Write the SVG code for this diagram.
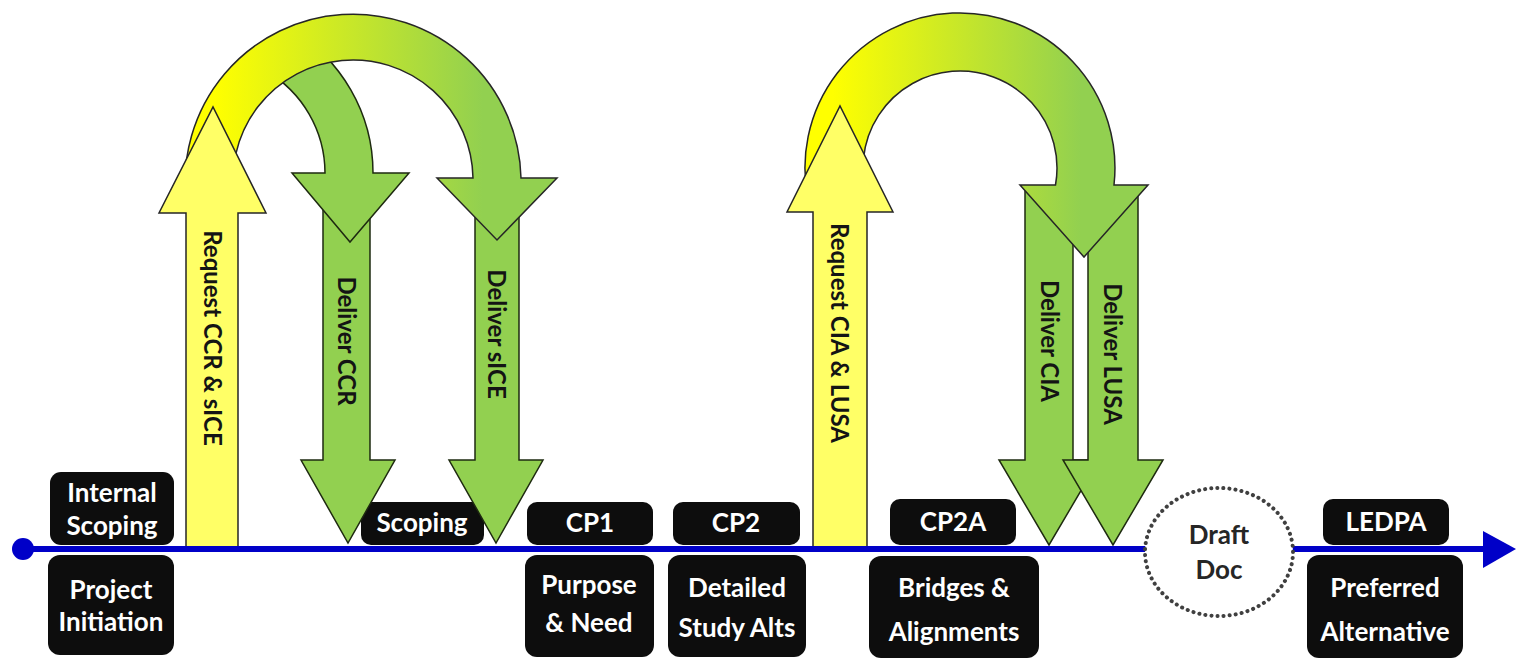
<svg xmlns="http://www.w3.org/2000/svg" width="1516" height="660" viewBox="0 0 1516 660">
<style>
.box{fill:#0d0d0d}
.bt{font-family:Lato,"Open Sans","Liberation Sans",sans-serif;font-weight:700;font-size:26px;fill:#ffffff;text-anchor:middle}
.at{font-family:Lato,"Open Sans","Liberation Sans",sans-serif;font-weight:700;font-size:24px;fill:#141414;text-anchor:middle;dominant-baseline:central}
.yel{fill:#ffff66;stroke:#262626;stroke-width:1.5;stroke-linejoin:miter}
.grn{fill:#92d050;stroke:#1e2a10;stroke-width:1.5;stroke-linejoin:miter}
.arc{fill:url(#yg);stroke:#262626;stroke-width:1.5;stroke-linejoin:miter}
.arc2{fill:url(#yg2);stroke:#262626;stroke-width:1.5;stroke-linejoin:miter}
.tl{stroke:#0000c8;stroke-width:6;fill:none}
</style>
<defs>
<linearGradient id="yg" x1="185" y1="0" x2="557" y2="0" gradientUnits="userSpaceOnUse">
<stop offset="0.08" stop-color="#ffff00"/>
<stop offset="0.8" stop-color="#92d050"/>
</linearGradient>
<linearGradient id="yg2" x1="805" y1="0" x2="1150" y2="0" gradientUnits="userSpaceOnUse">
<stop offset="0.08" stop-color="#ffff00"/>
<stop offset="0.8" stop-color="#92d050"/>
</linearGradient>
</defs>

<!-- upper milestone boxes -->
<g id="internal-scoping"><rect class="box" x="50" y="472" width="124" height="73" rx="11"/><text class="bt" x="112" y="502">Internal</text><text class="bt" x="112" y="535">Scoping</text></g>
<g id="scoping"><rect class="box" x="361" y="502" width="123" height="43" rx="10"/><text class="bt" x="422" y="532">Scoping</text></g>
<g id="cp1"><rect class="box" x="527" y="502" width="126" height="43" rx="10"/><text class="bt" x="590" y="532">CP1</text></g>
<g id="cp2"><rect class="box" x="673" y="502" width="127" height="43" rx="10"/><text class="bt" x="736" y="532">CP2</text></g>
<g id="cp2a"><rect class="box" x="890" y="499" width="126" height="46" rx="10"/><text class="bt" x="953" y="531">CP2A</text></g>
<g id="ledpa"><rect class="box" x="1323" y="499" width="126" height="46" rx="10"/><text class="bt" x="1386" y="531">LEDPA</text></g>

<!-- left arrow group -->
<g id="deliver-ccr">
<path class="grn" d="M323,200 L370,200 L370,460 L395,460 L348,543 L301,460 L323,460 Z"/>
<text class="at" transform="translate(347,341) rotate(90)">Deliver CCR</text>
</g>
<g id="deliver-sice">
<path class="grn" d="M475,200 L519,200 L519,460 L543,460 L496,543 L449,460 L475,460 Z"/>
<text class="at" transform="translate(497,334) rotate(90)">Deliver sICE</text>
</g>
<g id="loop-ccr-branch">
<path class="grn" d="M290,29 A166,166 0 0 1 373,173 L409,173 L350,242 L292,173 L325,173 A118,118 0 0 0 266,71 Z"/>
</g>
<g id="loop-ccr-sice">
<path class="arc" d="M186,200 A168,168 0 1 1 521,178 L557,178 L497,240 L437,178 L473,178 A120,120 0 1 0 234.7,200 Z"/>
</g>
<g id="request-ccr-sice">
<path class="yel" d="M186,547 L186,213 L159,213 L213,107 L266,213 L238,213 L238,547 Z"/>
<text class="at" transform="translate(213,338) rotate(90)">Request CCR &amp; sICE</text>
</g>

<!-- right arrow group -->
<g id="deliver-cia">
<path class="grn" d="M1025,190 L1073,190 L1073,460 L1099,460 L1049,545 L999,460 L1025,460 Z"/>
<text class="at" transform="translate(1050,341) rotate(90)">Deliver CIA</text>
</g>
<g id="deliver-lusa">
<path class="grn" d="M1088,190 L1138,190 L1138,460 L1163,460 L1113,545 L1063,460 L1088,460 Z"/>
<text class="at" transform="translate(1113,354) rotate(90)">Deliver LUSA</text>
</g>
<g id="loop-cia-lusa">
<path class="arc2" d="M808.3,200 A155,155 0 1 1 1114,185 L1148,185 L1084,257 L1020,185 L1055.5,185 A97,97 0 1 0 868.4,200 Z"/>
</g>
<g id="request-cia-lusa">
<path class="yel" d="M813,547 L813,212 L787,212 L840,106 L893,212 L867,212 L867,547 Z"/>
<text class="at" transform="translate(840,333) rotate(90)">Request CIA &amp; LUSA</text>
</g>

<!-- connectors: timeline -->
<g id="connectors">
<line class="tl" x1="22" y1="549" x2="1486" y2="549"/>
<polygon points="1483,531 1516,549 1483,568" fill="#0000c8"/>
<circle cx="23" cy="549" r="11" fill="#0000c8"/>
</g>

<!-- lower boxes -->
<g id="project-initiation"><rect class="box" x="48" y="555" width="126" height="100" rx="12"/><text class="bt" x="111" y="599">Project</text><text class="bt" x="111" y="631">Initiation</text></g>
<g id="purpose-need"><rect class="box" x="525" y="555" width="129" height="102" rx="12"/><text class="bt" x="589" y="594">Purpose</text><text class="bt" x="589" y="632">&amp; Need</text></g>
<g id="detailed-study-alts"><rect class="box" x="668" y="555" width="138" height="102" rx="12"/><text class="bt" x="737" y="597">Detailed</text><text class="bt" x="737" y="637">Study Alts</text></g>
<g id="bridges-alignments"><rect class="box" x="869" y="556" width="170" height="102" rx="12"/><text class="bt" x="954" y="597">Bridges &amp;</text><text class="bt" x="954" y="641">Alignments</text></g>
<g id="draft-doc"><ellipse cx="1219" cy="552" rx="74" ry="64" fill="#ffffff" stroke="#404040" stroke-width="4" stroke-dasharray="0.1 6" stroke-linecap="round"/><text class="bt" x="1219" y="544" style="fill:#262626">Draft</text><text class="bt" x="1219" y="579" style="fill:#262626">Doc</text></g>
<g id="preferred-alternative"><rect class="box" x="1307" y="555" width="156" height="103" rx="12"/><text class="bt" x="1385" y="597">Preferred</text><text class="bt" x="1385" y="641">Alternative</text></g>
</svg>
